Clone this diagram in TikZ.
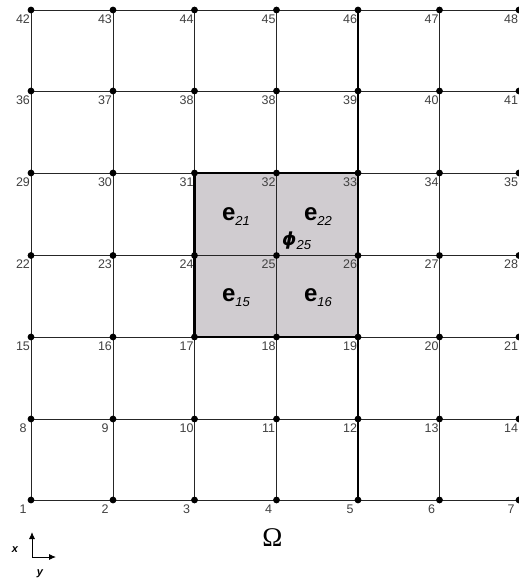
\documentclass[tikz,border=0pt]{standalone}
\usepackage{fontspec}
\setmainfont{Liberation Sans}
\newfontfamily\serifom{Liberation Serif}
\newfontfamily\dejavu{DejaVu Sans}
\usetikzlibrary{arrows.meta}
\definecolor{shadegray}{RGB}{208,204,208}
\begin{document}
\begin{tikzpicture}[x=1pt,y=-1pt,
  gridline/.style={draw=black!85, line width=0.9pt},
  boldline/.style={draw=black, line width=1.8pt},
  boldborder/.style={draw=black, line width=2.6pt},
  dot/.style={circle, fill=black, inner sep=0pt, minimum size=6.8pt},
  numlabel/.style={font=\fontsize{12.5}{13}\selectfont, text=black!75, inner sep=0pt},
  elabel/.style={font=\fontsize{24}{25}\selectfont\bfseries, inner sep=0pt},
  axislabel/.style={font=\fontsize{11}{12}\selectfont\bfseries\itshape, inner sep=0pt},
  axisarrow/.style={draw=black, line width=0.9pt, -{Latex[length=7pt,width=6pt]}}
]
\useasboundingbox (0,0) rectangle (519,584);
\newcommand{\esub}[2]{#1\raisebox{-5pt}{\fontsize{13}{13}\selectfont\mdseries\itshape #2}}
% grid coordinates
\foreach \x [count=\ii from 0] in {31,113,194.5,276.5,358,439.5,519} {
  \foreach \y [count=\jj from 0] in {10,91,173,255.5,337,419,500} {
    \coordinate (p\ii\jj) at (\x,\y);
  }
}
% shaded elements
\fill[shadegray] (p22) rectangle (p44);
% grid lines
\foreach \j in {0,...,6} { \draw[gridline] (p0\j) -- (p6\j); }
\foreach \i in {0,...,6} { \draw[gridline] (p\i0) -- (p\i6); }
\draw[boldline] (p40) -- (p46);
\draw[boldborder] (p22) rectangle (p44);
% dots and number labels
\foreach \i in {0,...,6} {
  \foreach \j in {0,...,6} {
    \node[dot] (d\i\j) at (p\i\j) {};
    \pgfmathtruncatemacro\n{(6-\j)*7+1+\i}
    \ifnum\j=1 \ifnum\i>2 \pgfmathtruncatemacro\n{\n-1}\fi\fi
    \ifnum\j=0 \pgfmathtruncatemacro\n{\n-1}\fi
    \node[numlabel, xshift=-8pt, yshift=-9pt] (l\i\j) at (p\i\j) {\n};
  }
}
% element labels
\node[elabel] (e21) at (236,217) {\esub{e}{21}};
\node[elabel] (e22) at (318,217) {\esub{e}{22}};
\node[elabel] (e15) at (236,298) {\esub{e}{15}};
\node[elabel] (e16) at (318,298) {\esub{e}{16}};
\node[inner sep=0pt, anchor=west, font=\fontsize{18}{19}\selectfont] (phi) at (282,241)
  {{\dejavu\bfseries\itshape ϕ}\raisebox{-4pt}{\fontsize{13}{13}\selectfont\itshape 25}};
% Omega
\node[font=\serifom\fontsize{27}{27}\selectfont, inner sep=0pt] (omega) at (272.5,538) {Ω};
% axes
\coordinate (ax0) at (32,557);
\coordinate (axx) at (32,532);
\coordinate (axy) at (56,557);
\draw[axisarrow] (ax0) -- (axx);
\draw[axisarrow] (ax0) -- (axy);
\node[axislabel] (xl) at (15,550) {x};
\node[axislabel] (yl) at (40,574) {y};
\end{tikzpicture}
\end{document}
